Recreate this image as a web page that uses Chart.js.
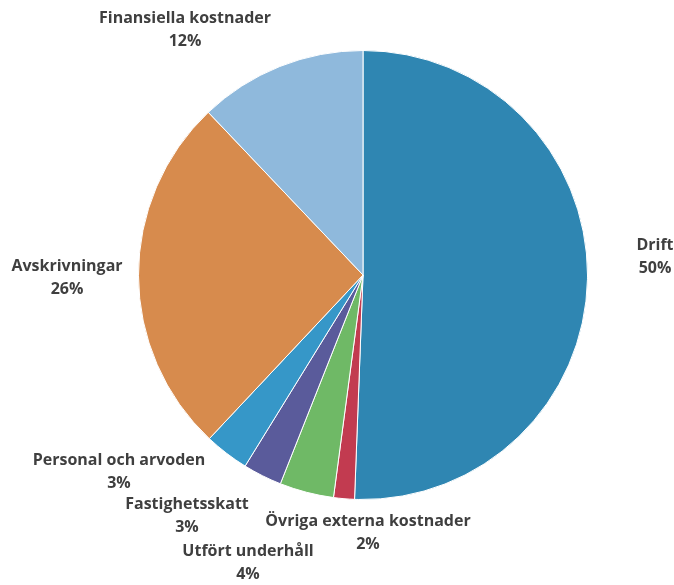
<!DOCTYPE html>
<html><head><meta charset="utf-8">
<script src="https://cdn.jsdelivr.net/npm/chart.js@4/dist/chart.umd.min.js"></script>
<style>html,body{margin:0;padding:0;background:#fff}#wrap{width:674px;height:585px}</style>
</head><body><div id="wrap"><canvas id="c" width="674" height="585"></canvas></div>
<script>
const categories = ['Drift','Övriga externa kostnader','Utfört underhåll','Fastighetsskatt','Personal och arvoden','Avskrivningar','Finansiella kostnader'];
const shares = [50.6, 1.5, 3.9, 2.8, 3.2, 25.9, 12.1];
const percentLabels = ['50%','2%','4%','3%','3%','26%','12%'];
const colors = ['#2f86b2','#c23b50','#6fb966','#5a5b9b','#3697c8','#d78b4d','#8fb9dc'];
// label block centres relative to pie centre (layout only)
const labelOffsets = [[292,-18],[5,258],[-115,288],[-176,241],[-244,197],[-296,3],[-178,-245]];

const labelPlugin = {
  id: 'outLabels',
  afterDatasetsDraw(chart) {
    const ctx = chart.ctx;
    const arcs = chart.getDatasetMeta(0).data;
    ctx.save();
    ctx.fillStyle = '#3f3f3f';
    ctx.font = 'bold 16px "Open Sans"';
    ctx.textAlign = 'center';
    ctx.textBaseline = 'middle';
    arcs.forEach((a, i) => {
      const cx = a.x + labelOffsets[i][0];
      const cy = a.y + labelOffsets[i][1];
      ctx.fillText(categories[i], cx, cy - 11.5);
      ctx.fillText(percentLabels[i], cx, cy + 11.5);
    });
    ctx.restore();
  }
};

new Chart(document.getElementById('c'), {
  type: 'pie',
  data: { labels: categories, datasets: [{ data: shares, backgroundColor: colors, borderColor: '#ffffff', borderWidth: 1 }] },
  options: {
    responsive: false, animation: false,
    layout: { padding: { left: 138, right: 86, top: 50, bottom: 85 } },
    plugins: { legend: { display: false }, tooltip: { enabled: false } }
  },
  plugins: [labelPlugin]
});
</script></body></html>
